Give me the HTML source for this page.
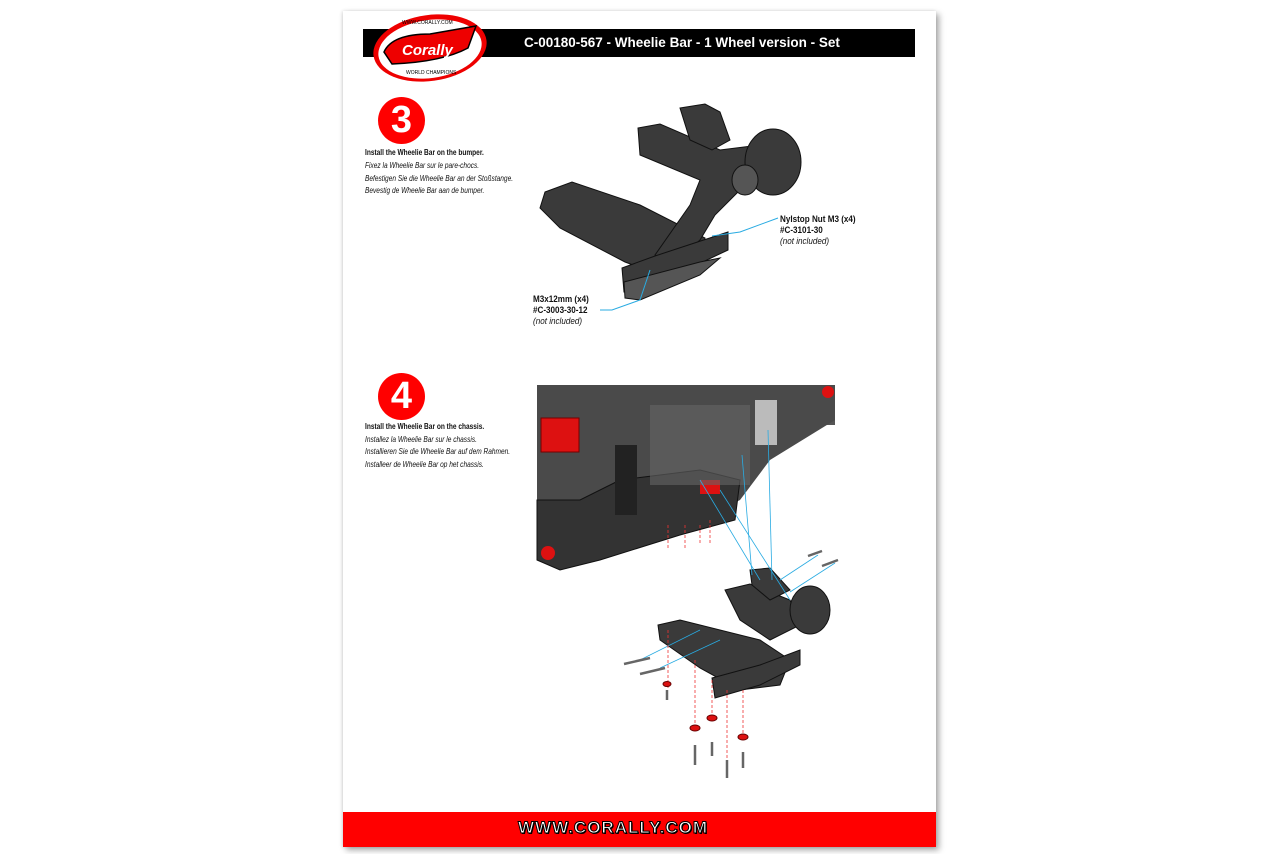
<!DOCTYPE html>
<html><head><meta charset="utf-8"><style>
body{margin:0;width:1280px;height:854px;background:#fff;position:relative;overflow:hidden;font-family:"Liberation Sans",sans-serif}
.page{position:absolute;left:343px;top:11px;width:593px;height:836px;background:#fff;box-shadow:3px 3px 6px rgba(0,0,0,.35),-1px 0 3px rgba(0,0,0,.12)}
.t{position:absolute;font-size:8px;color:#111;transform:scaleX(.82);transform-origin:left;white-space:nowrap}
.i{font-style:italic}
.lab{position:absolute;font-size:9px;line-height:10px;color:#111;transform:scaleX(.9);transform-origin:left;white-space:nowrap}
</style></head><body>
<div class="page"></div>
<div style="position:absolute;left:363px;top:29px;width:552px;height:28px;background:#000"></div>
<div style="position:absolute;left:524px;top:35px;color:#fff;font-weight:bold;font-size:13.5px">C-00180-567 - Wheelie Bar - 1 Wheel version - Set</div>
<svg style="position:absolute;left:372px;top:12px" width="118" height="72">
<ellipse cx="58" cy="36" rx="57" ry="33" fill="#e00" transform="rotate(-8 58 36)"/>
<ellipse cx="58" cy="37" rx="52" ry="29" fill="#fff" transform="rotate(-8 58 37)"/>
<path d="M12 40 Q20 22 58 22 L104 14 L96 36 Q70 50 20 52 Z" fill="#e00" stroke="#000" stroke-width="1.5"/>
<text x="30" y="43" font-size="15" font-weight="bold" font-style="italic" fill="#fff" font-family="Liberation Sans">Corally</text>
<text x="30" y="12" font-size="5" fill="#000">WWW.CORALLY.COM</text>
<text x="34" y="62" font-size="5" fill="#000">WORLD CHAMPIONS</text>
</svg>
<div style="position:absolute;left:343px;top:812px;width:593px;height:35px;background:#f00"></div>
<div style="position:absolute;left:518px;top:818px;font-weight:bold;font-size:17px;color:#fff;letter-spacing:1px;-webkit-text-stroke:1px #000;text-shadow:1px 1px 0 #000">WWW.CORALLY.COM</div>

<div style="position:absolute;left:378px;top:97px;width:47px;height:47px;border-radius:50%;background:#f00;color:#fff;font-weight:bold;font-size:38px;text-align:center;line-height:47px">3</div>
<div class="t" style="left:365px;top:148px;font-weight:bold">Install the Wheelie Bar on the bumper.</div>
<div class="t i" style="left:365px;top:161px">Fixez la Wheelie Bar sur le pare-chocs.</div>
<div class="t i" style="left:365px;top:174px">Befestigen Sie die Wheelie Bar an der Stoßstange.</div>
<div class="t i" style="left:365px;top:186px">Bevestig de Wheelie Bar aan de bumper.</div>

<div style="position:absolute;left:378px;top:373px;width:47px;height:47px;border-radius:50%;background:#f00;color:#fff;font-weight:bold;font-size:38px;text-align:center;line-height:47px">4</div>
<div class="t" style="left:365px;top:422px;font-weight:bold">Install the Wheelie Bar on the chassis.</div>
<div class="t i" style="left:365px;top:435px">Installez la Wheelie Bar sur le chassis.</div>
<div class="t i" style="left:365px;top:447px">Installieren Sie die Wheelie Bar auf dem Rahmen.</div>
<div class="t i" style="left:365px;top:460px">Installeer de Wheelie Bar op het chassis.</div>

<svg style="position:absolute;left:0;top:0" width="1280" height="854">
<g fill="#3a3a3a" stroke="#111" stroke-width="1">
<polygon points="545,192 572,182 640,205 705,238 700,262 660,275 625,262 560,228 540,208"/>
<polygon points="638,128 660,124 720,150 760,145 790,150 790,175 740,190 715,215 700,240 680,258 665,265 655,255 690,205 700,180 640,155"/>
<polygon points="680,108 705,104 720,112 730,140 712,150 690,140"/>
<ellipse cx="773" cy="162" rx="28" ry="33"/>
<ellipse cx="745" cy="180" rx="13" ry="15" fill="#555"/>
<polygon points="622,268 655,256 728,232 728,250 690,268 640,292 624,292"/>
<polygon points="624,282 700,262 720,258 700,275 640,300 625,298" fill="#555"/>
</g>
<g stroke="#29abe2" stroke-width="1" fill="none">
<polyline points="712,236 740,232 778,218"/>
<polyline points="650,270 640,300 612,310 600,310"/>
</g>
<rect x="537" y="385" width="298" height="40" fill="#555"/>
<polygon points="537,385 835,385 835,420 770,460 740,500 700,520 620,545 560,565 537,560" fill="#4a4a4a"/>
<polygon points="537,500 580,500 620,480 700,470 740,480 735,520 680,535 600,560 560,570 537,560" fill="#333" stroke="#111"/>
<rect x="541" y="418" width="38" height="34" fill="#d11" stroke="#700"/>
<rect x="615" y="445" width="22" height="70" fill="#222"/>
<rect x="755" y="400" width="22" height="45" fill="#bbb"/>
<rect x="700" y="480" width="20" height="14" fill="#d11"/>
<circle cx="548" cy="553" r="7" fill="#d11"/>
<circle cx="828" cy="392" r="6" fill="#d11"/>
<rect x="650" y="405" width="100" height="80" fill="#666" opacity=".6"/>
<g fill="#3a3a3a" stroke="#111">
<polygon points="658,625 680,620 760,640 790,660 780,685 740,690 700,668 660,640"/>
<polygon points="725,590 750,584 790,600 800,625 770,640 740,620"/>
<polygon points="750,570 770,568 790,590 770,600 752,585"/>
<ellipse cx="810" cy="610" rx="20" ry="24"/>
<polygon points="712,678 760,665 800,650 800,665 760,685 715,698"/>
</g>
<g stroke="#29abe2" stroke-width="0.8" fill="none">
<line x1="700" y1="480" x2="760" y2="580"/><line x1="720" y1="490" x2="790" y2="600"/>
<line x1="742" y1="455" x2="752" y2="575"/><line x1="768" y1="430" x2="772" y2="580"/>
<line x1="640" y1="660" x2="700" y2="630"/><line x1="660" y1="668" x2="720" y2="640"/>
<line x1="780" y1="580" x2="818" y2="555"/><line x1="790" y1="592" x2="835" y2="563"/>
</g>
<g stroke="#e33" stroke-width="0.8" stroke-dasharray="3,2">
<line x1="668" y1="630" x2="668" y2="690"/><line x1="695" y1="660" x2="695" y2="730"/>
<line x1="712" y1="680" x2="712" y2="720"/><line x1="727" y1="690" x2="727" y2="760"/>
<line x1="743" y1="690" x2="743" y2="738"/>
<line x1="668" y1="525" x2="668" y2="550"/><line x1="685" y1="525" x2="685" y2="550"/>
<line x1="700" y1="525" x2="700" y2="545"/><line x1="710" y1="520" x2="710" y2="545"/>
</g>
<g fill="#d11" stroke="#600"><ellipse cx="667" cy="684" rx="4" ry="2.5"/><ellipse cx="695" cy="728" rx="5" ry="3"/><ellipse cx="712" cy="718" rx="5" ry="3"/><ellipse cx="743" cy="737" rx="5" ry="3"/></g>
<g stroke="#666" stroke-width="2.5"><line x1="667" y1="690" x2="667" y2="700"/><line x1="695" y1="745" x2="695" y2="765"/><line x1="712" y1="742" x2="712" y2="756"/><line x1="727" y1="760" x2="727" y2="778"/><line x1="743" y1="752" x2="743" y2="768"/>
<line x1="624" y1="664" x2="650" y2="658"/><line x1="640" y1="674" x2="665" y2="668"/><line x1="808" y1="556" x2="822" y2="551"/><line x1="822" y1="566" x2="838" y2="560"/></g>
</svg>
<div class="lab" style="left:780px;top:214px;font-weight:bold">Nylstop Nut M3 (x4)</div>
<div class="lab" style="left:780px;top:225px;font-weight:bold">#C-3101-30</div>
<div class="lab i" style="left:780px;top:236px">(not included)</div>
<div class="lab" style="left:533px;top:294px;font-weight:bold">M3x12mm (x4)</div>
<div class="lab" style="left:533px;top:305px;font-weight:bold">#C-3003-30-12</div>
<div class="lab i" style="left:533px;top:316px">(not included)</div>
</body></html>
